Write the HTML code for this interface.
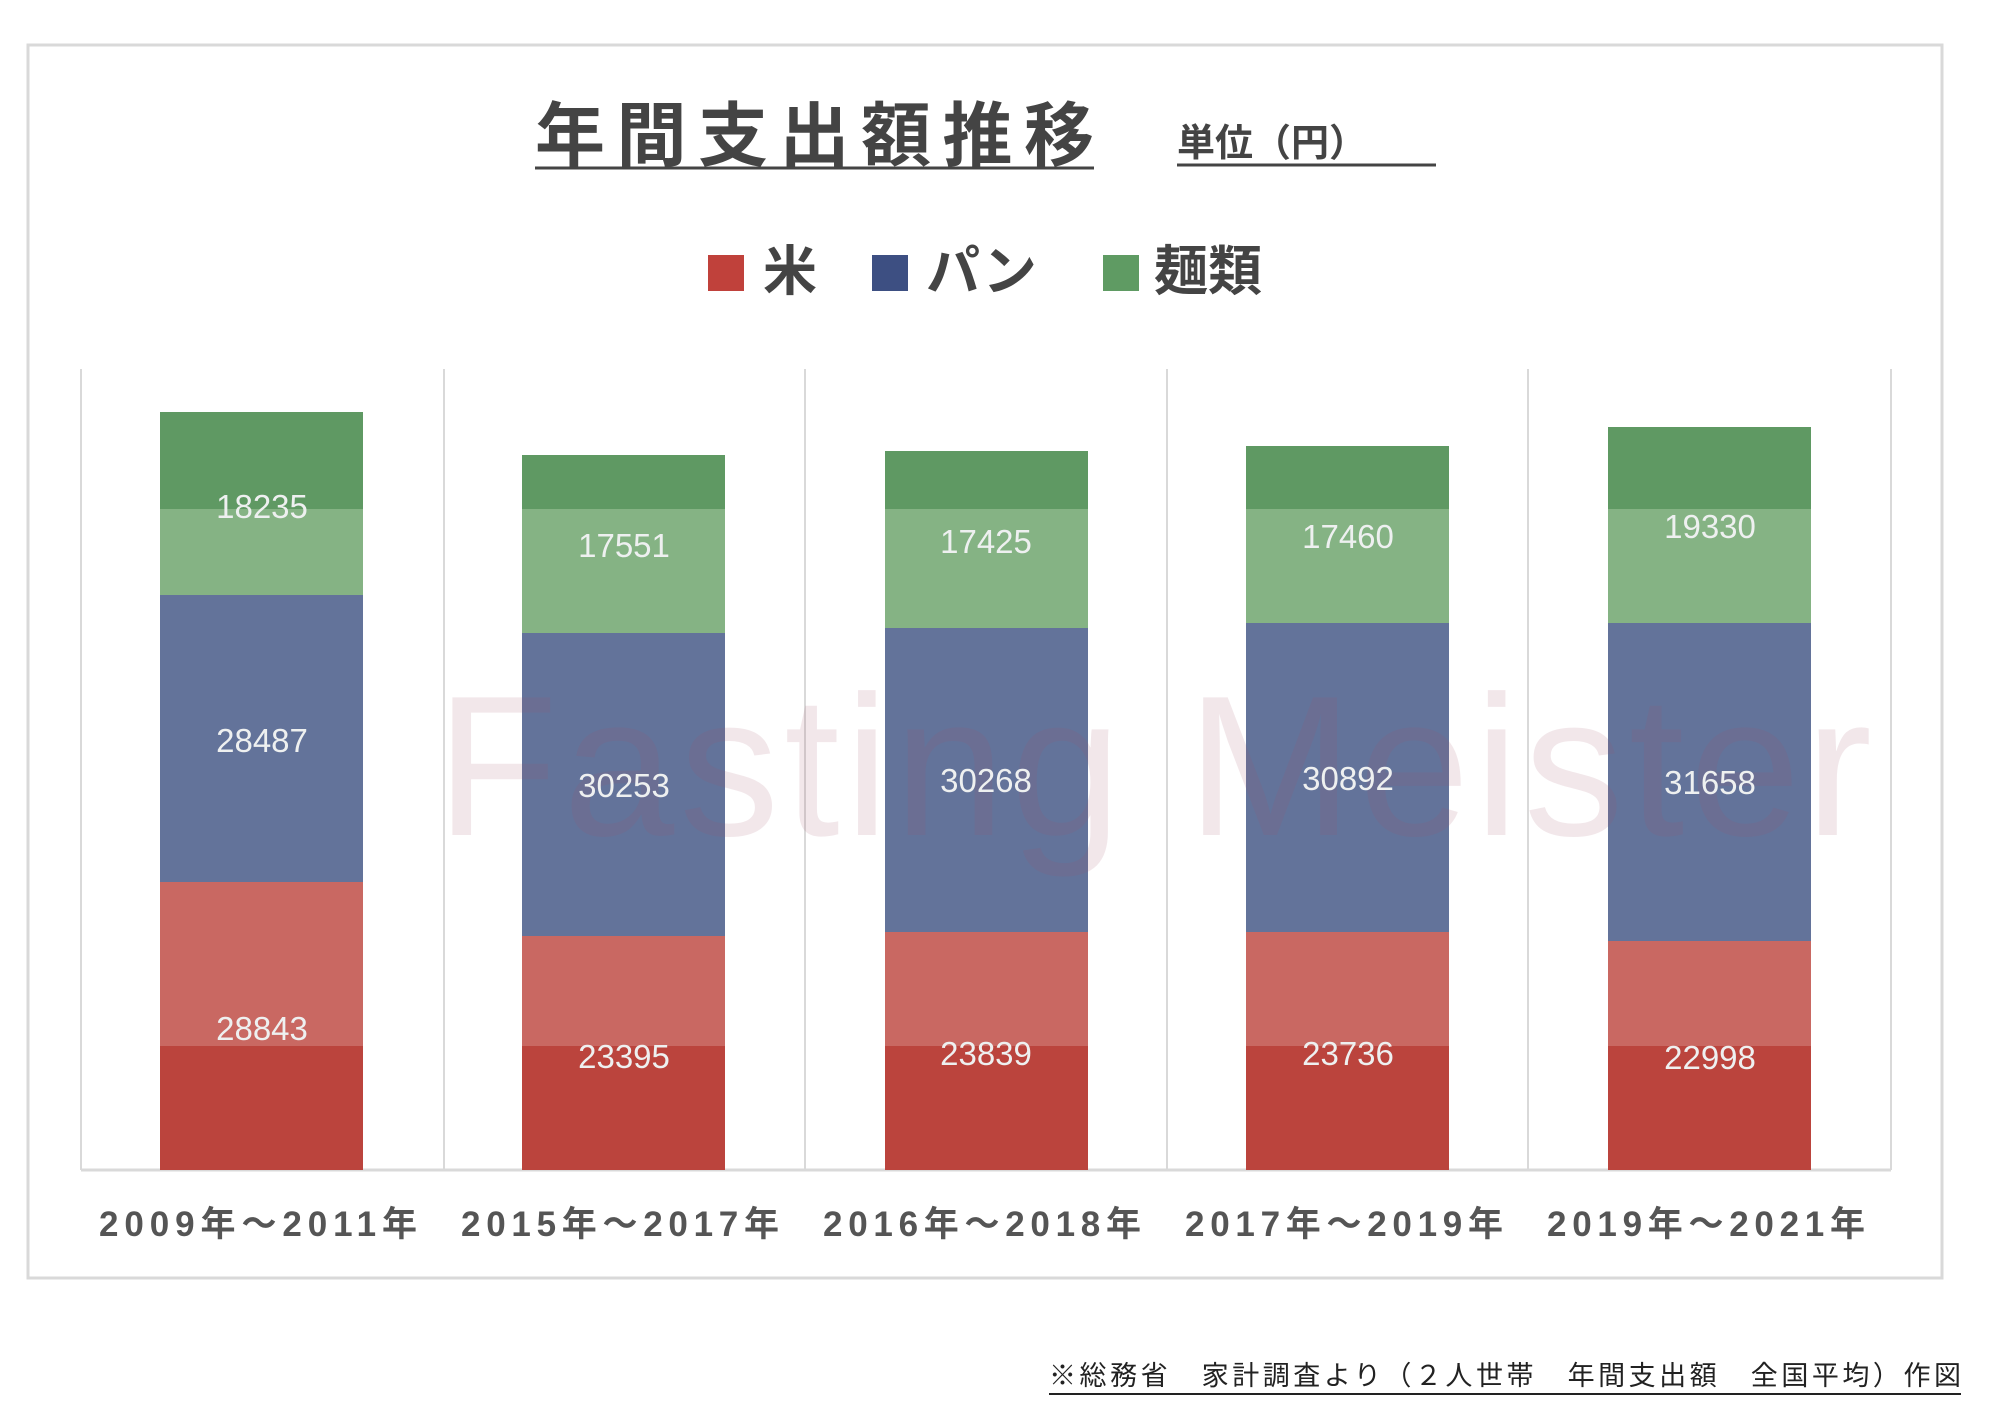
<!DOCTYPE html>
<html><head><meta charset="utf-8"><style>
html,body{margin:0;padding:0;background:#fff;}
svg{display:block;}
text{font-family:"Liberation Sans","Noto Sans CJK JP",sans-serif;}
</style></head><body>
<svg width="2010" height="1410" viewBox="0 0 2010 1410" xmlns="http://www.w3.org/2000/svg">
<rect x="0" y="0" width="2010" height="1410" fill="#fff"/>
<rect x="28" y="45" width="1914" height="1233" fill="#fff" stroke="#d9d9d9" stroke-width="3"/>
<text x="535" y="160" font-size="70" font-weight="bold" fill="#444" textLength="559">年間支出額推移</text>
<line x1="535" y1="168" x2="1094" y2="168" stroke="#444" stroke-width="3"/>
<text x="1177" y="156" font-size="38" font-weight="bold" fill="#444">単位（円）</text>
<line x1="1177" y1="165" x2="1436" y2="165" stroke="#444" stroke-width="3"/>
<rect x="708" y="255" width="36" height="36" fill="#c0413b"/>
<text x="763" y="290" font-size="54" font-weight="bold" fill="#444">米</text>
<rect x="872" y="255" width="36" height="36" fill="#3d4f82"/>
<text x="926" y="290" font-size="54" font-weight="bold" fill="#444">パン</text>
<rect x="1103" y="255" width="36" height="36" fill="#5f9b63"/>
<text x="1154" y="290" font-size="54" font-weight="bold" fill="#444">麺類</text>
<g stroke="#d9d9d9" stroke-width="2">
<line x1="81" y1="369" x2="81" y2="1170"/><line x1="444" y1="369" x2="444" y2="1170"/>
<line x1="805" y1="369" x2="805" y2="1170"/><line x1="1167" y1="369" x2="1167" y2="1170"/>
<line x1="1528" y1="369" x2="1528" y2="1170"/><line x1="1891" y1="369" x2="1891" y2="1170"/>
<line x1="81" y1="1170" x2="1891" y2="1170" stroke-width="3"/>
</g>
<g>
<rect x="160" y="412" width="203" height="97" fill="#5f9963"/>
<rect x="160" y="509" width="203" height="86" fill="#85b384"/>
<rect x="160" y="595" width="203" height="287" fill="#63739a"/>
<rect x="160" y="882" width="203" height="164" fill="#c96862"/>
<rect x="160" y="1046" width="203" height="124" fill="#bb443d"/>

<rect x="522" y="455" width="203" height="54" fill="#5f9963"/>
<rect x="522" y="509" width="203" height="124" fill="#85b384"/>
<rect x="522" y="633" width="203" height="303" fill="#63739a"/>
<rect x="522" y="936" width="203" height="110" fill="#c96862"/>
<rect x="522" y="1046" width="203" height="124" fill="#bb443d"/>

<rect x="885" y="451" width="203" height="58" fill="#5f9963"/>
<rect x="885" y="509" width="203" height="119" fill="#85b384"/>
<rect x="885" y="628" width="203" height="304" fill="#63739a"/>
<rect x="885" y="932" width="203" height="114" fill="#c96862"/>
<rect x="885" y="1046" width="203" height="124" fill="#bb443d"/>

<rect x="1246" y="446" width="203" height="63" fill="#5f9963"/>
<rect x="1246" y="509" width="203" height="114" fill="#85b384"/>
<rect x="1246" y="623" width="203" height="309" fill="#63739a"/>
<rect x="1246" y="932" width="203" height="114" fill="#c96862"/>
<rect x="1246" y="1046" width="203" height="124" fill="#bb443d"/>

<rect x="1608" y="427" width="203" height="82" fill="#5f9963"/>
<rect x="1608" y="509" width="203" height="114" fill="#85b384"/>
<rect x="1608" y="623" width="203" height="318" fill="#63739a"/>
<rect x="1608" y="941" width="203" height="105" fill="#c96862"/>
<rect x="1608" y="1046" width="203" height="124" fill="#bb443d"/>
</g>
<text x="436" y="835" font-size="200" fill="#a05068" opacity="0.13" textLength="1436">Fasting Meister</text>
<g font-size="33" fill="#eef0f0" text-anchor="middle">
<text x="262" y="518">18235</text><text x="262" y="752">28487</text><text x="262" y="1040">28843</text>
<text x="624" y="557">17551</text><text x="624" y="797">30253</text><text x="624" y="1068">23395</text>
<text x="986" y="553">17425</text><text x="986" y="792">30268</text><text x="986" y="1065">23839</text>
<text x="1348" y="548">17460</text><text x="1348" y="790">30892</text><text x="1348" y="1065">23736</text>
<text x="1710" y="538">19330</text><text x="1710" y="794">31658</text><text x="1710" y="1069">22998</text>
</g>
<g font-size="35" font-weight="bold" fill="#555">
<text x="99" y="1236" textLength="318" lengthAdjust="spacing">2009年～2011年</text>
<text x="461" y="1236" textLength="318" lengthAdjust="spacing">2015年～2017年</text>
<text x="823" y="1236" textLength="318" lengthAdjust="spacing">2016年～2018年</text>
<text x="1185" y="1236" textLength="318" lengthAdjust="spacing">2017年～2019年</text>
<text x="1547" y="1236" textLength="318" lengthAdjust="spacing">2019年～2021年</text>
</g>
<text x="1049" y="1385" font-size="27" fill="#222" textLength="912">※総務省　家計調査より（２人世帯　年間支出額　全国平均）作図</text>
<line x1="1049" y1="1394" x2="1961" y2="1394" stroke="#222" stroke-width="2"/>
</svg>
</body></html>
